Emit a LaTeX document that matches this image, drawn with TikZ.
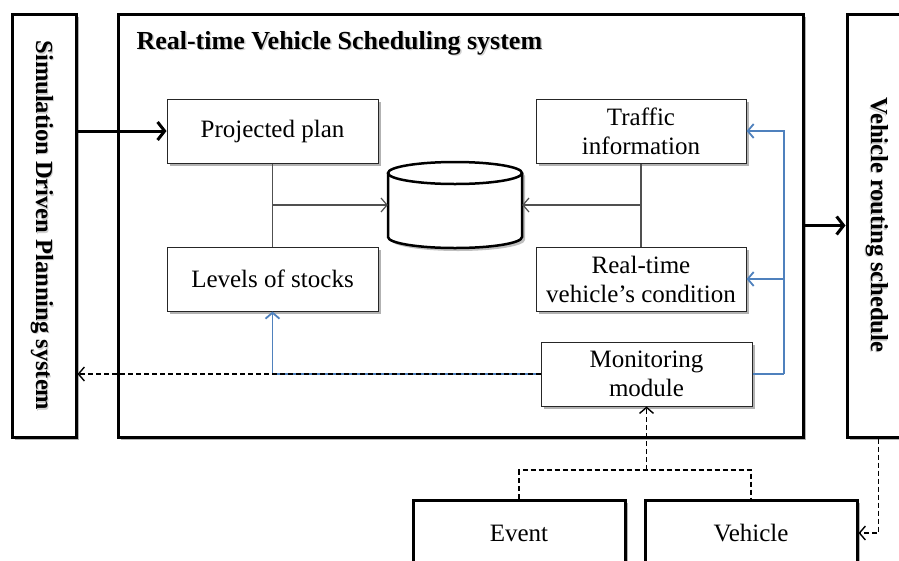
\documentclass[tikz,border=0pt]{standalone}
\usepackage{fontspec}
\setmainfont{Liberation Serif}
\usetikzlibrary{arrows.meta,shadows,calc}

\definecolor{linkblue}{RGB}{79,129,189}
\definecolor{linkgray}{RGB}{80,80,80}

\tikzset{
  boxshadow/.style={drop shadow={shadow xshift=3pt,shadow yshift=-3pt,opacity=0.3,fill=black}},
  bigbox/.style={draw=black, line width=3pt, fill=white, inner sep=0pt, boxshadow},
  smallbox/.style={draw=black!85, line width=1pt, fill=white, inner sep=0pt,
    minimum width=211pt, minimum height=64pt, align=center,
    font=\fontsize{25}{29}\selectfont, boxshadow},
  plaintext/.style={font=\fontsize{25}{29}\selectfont},
  headtext/.style={font=\bfseries\fontsize{24.5}{28}\selectfont},
  headshade/.style={headtext, text=black, opacity=0.18},
  thinarrow/.style={-{Straight Barb[length=6pt,width=14pt]}},
  gray link/.style={draw=linkgray, line width=1.2pt},
  blue link/.style={draw=linkblue, line width=1.8pt},
  dash link/.style={draw=black, line width=1.4pt, dash pattern=on 5pt off 3pt},
  bold link/.style={draw=black, line width=3pt, -{Straight Barb[length=7pt,width=18pt]}},
}

\begin{document}
\begin{tikzpicture}[x=1pt,y=1pt]
\useasboundingbox (0,0) rectangle (899,-560);
\clip (0,0) rectangle (899,-560);

% outer frames
\node[bigbox, minimum width=64pt, minimum height=423pt] (sim) at (44,-225.5) {};
\node[bigbox, minimum width=685pt, minimum height=423pt] (main) at (460.5,-225.5) {};
\node[bigbox, minimum width=63pt, minimum height=423pt] (route) at (878.5,-225.5) {};

% frame labels with a faint shade behind them
\node[headshade, rotate=-90] at ($(sim.center)+(-1,-1.5)$) {Simulation Driven Planning system};
\node[headtext, rotate=-90] (simlabel) at ($(sim.center)+(-2,0)$) {Simulation Driven Planning system};
\node[headshade, rotate=-90] at (876,-226.5) {Vehicle routing schedule};
\node[headtext, rotate=-90] (routelabel) at (877,-225) {Vehicle routing schedule};
\node[headshade, anchor=west, font=\bfseries\fontsize{26}{29}\selectfont] at (134.5,-44.5) {Real-time Vehicle Scheduling system};
\node[headtext, anchor=west, font=\bfseries\fontsize{26}{29}\selectfont] (title) at (133,-43) {Real-time Vehicle Scheduling system};

% inner modules
\node[smallbox] (plan) at (272.5,-131) {Projected plan};
\node[smallbox] (levels) at (272.5,-279) {Levels of stocks};
\node[smallbox, minimum width=210pt] (traffic) at (641,-131) {Traffic\\information};
\node[smallbox, minimum width=210pt] (cond) at (641,-279) {Real-time\\vehicle’s condition};
\node[smallbox] (mon) at (646.5,-374) {Monitoring\\module};

% data store
\node[minimum width=134pt, minimum height=86pt, inner sep=0pt] (db) at (455,-205) {};
\fill[black, opacity=0.25] (391,-176) -- (391,-240) arc[start angle=180, end angle=360, x radius=67, y radius=11] -- (525,-176) arc[start angle=0, end angle=180, x radius=67, y radius=11] -- cycle;
\fill[white] (388,-173) -- (388,-237) arc[start angle=180, end angle=360, x radius=67, y radius=11] -- (522,-173) arc[start angle=0, end angle=180, x radius=67, y radius=11] -- cycle;
\draw[line width=2.5pt] (388,-173) -- (388,-237) arc[start angle=180, end angle=360, x radius=67, y radius=11] -- (522,-173);
\draw[line width=2.5pt] (455,-173) ellipse[x radius=67, y radius=11];

% source boxes
\node[bigbox, minimum width=212pt, minimum height=66pt, plaintext] (event) at (519,-533) {Event};
\node[bigbox, minimum width=212pt, minimum height=66pt, plaintext] (vehicle) at (751,-533) {Vehicle};

% flows into the data store
\draw[gray link] (plan.south) -- (levels.north);
\draw[gray link, thinarrow] (plan.south |- db.west) -- (db.west);
\draw[gray link] (traffic.south) -- (cond.north);
\draw[gray link, thinarrow] (traffic.south |- db.east) -- (db.east);

% monitoring feedback
\coordinate (bus) at (784,-374);
\draw[blue link] (mon.east) -- (bus);
\draw[blue link, thinarrow] (bus) |- (traffic.east);
\draw[blue link, thinarrow] (bus) |- (cond.east);
\draw[blue link, thinarrow] (mon.west) -| (levels.south);
\draw[dash link, thinarrow] (mon.west) -- (mon.west -| sim.east);

% event and vehicle inputs
\coordinate (split) at (646.5,-470);
\draw[dash link] (event.north) |- (split) -| (vehicle.north);
\draw[dash link, thinarrow] (split) -- (mon.south);
\draw[dash link, thinarrow] (route.south) |- (vehicle.east);

% system-level flows
\draw[bold link] (sim.east |- plan.west) -- (plan.west);
\draw[bold link] (main.east) -- (route.west);
\end{tikzpicture}
\end{document}
